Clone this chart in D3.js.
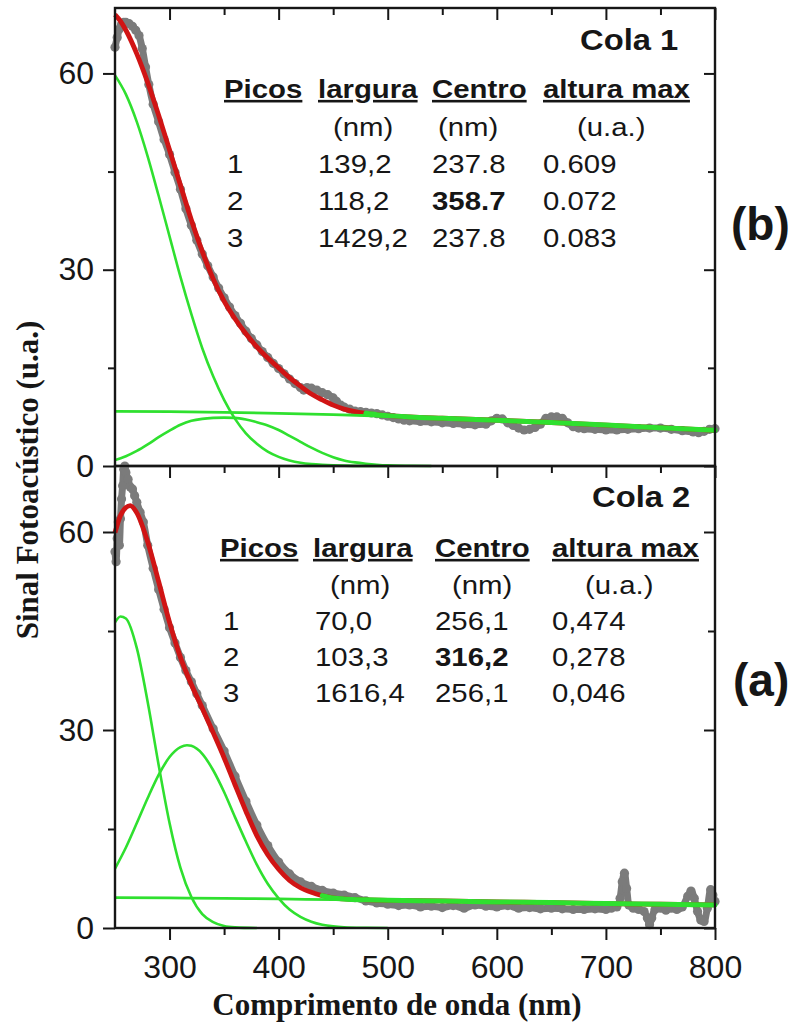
<!DOCTYPE html>
<html>
<head>
<meta charset="utf-8">
<script src="https://cdn.jsdelivr.net/npm/d3@7"></script>
<style>
  body { margin: 0; background: #fff; }
  svg { display: block; }
</style>
</head>
<body>
<div id="chart"></div>
<script>
const width = 795, height = 1023;

// ---- data ----

// table (shared headings)
const headers = ['Picos', 'largura', 'Centro', 'altura max'];
const units = ['', '(nm)', '(nm)', '(u.a.)'];
const tableB = [
  ['1', '139,2', '237.8', '0.609'],
  ['2', '118,2', '358.7', '0.072'],
  ['3', '1429,2', '237.8', '0.083']
];
const tableA = [
  ['1', '70,0', '256,1', '0,474'],
  ['2', '103,3', '316,2', '0,278'],
  ['3', '1616,4', '256,1', '0,046']
];

const nmMajor = [300, 400, 500, 600, 700, 800];
const nmMinor = [350, 450, 550, 650, 750];
const sigMajor = [0, 30, 60];
const sigMinor = [15, 45];

// Cola 1 (b): measured signal
const dataB_nm = [250,252,254,256,258,260,263,266,269,272,275,278,281,285,290,295,300,305,310,315,320,325,330,335,340,345,350,355,360,365,370,375,380,385,390,395,400,405,410,415,420,423,426,430,435,440,445,450,453,457,460,465,470,475,480,485,490,495,500,505,510,515,520,530,540,550,560,570,580,590,595,600,605,610,615,620,625,630,635,640,645,650,655,660,665,670,675,680,690,700,710,720,730,740,750,760,770,780,785,790,795,800];
const dataB_val = [64.0,65.5,66.8,67.5,67.8,67.8,67.6,67.2,66.6,65.8,63.8,61.0,58.3,55.3,52.6,49.9,47.6,44.9,42.3,39.3,36.8,34.5,32.4,30.6,28.9,27.2,25.7,24.3,23.0,21.8,20.6,19.5,18.5,17.5,16.6,15.7,14.9,14.1,13.3,12.6,12.0,11.6,12.0,11.9,11.6,11.2,10.9,10.4,9.9,9.3,9.0,8.7,8.4,8.3,8.2,8.1,8.0,7.8,7.6,7.4,7.2,7.0,6.9,6.8,6.75,6.6,6.5,6.4,6.3,6.4,6.9,7.3,7.2,6.6,6.2,5.8,5.5,5.6,5.9,6.4,7.3,7.5,7.5,7.3,6.6,6.0,5.8,5.7,5.6,5.5,5.5,5.6,5.7,5.8,5.8,5.6,5.4,5.2,5.1,5.3,5.6,5.7];

// Cola 1 (b): fitted sum and components
const fitB_nm = [250,255,260,270,280,290,300,310,320,330,340,350,360,370,380,390,400,410,420,430,440,450,460,470,480,490,500,520,550,600,650,700,750,800];
const fitB_val = [69.0,68.0,66.6,63.0,58.6,53.6,48.3,42.9,37.6,32.8,28.6,25.2,22.5,20.2,18.2,16.5,15.0,13.5,12.2,11.0,10.1,9.3,8.7,8.3,8.05,7.85,7.7,7.5,7.3,7.0,6.65,6.25,5.85,5.45];
const peak1B_nm = [250,260,270,280,290,300,310,320,330,340,350,360,370,380,390,400,410,420,430,440,450,460,480,500];
const peak1B_val = [59.7,56.8,52.6,47.3,41.3,35.1,28.9,23.2,18.0,13.7,10.1,7.2,5.0,3.4,2.2,1.4,0.85,0.5,0.3,0.18,0.1,0.05,0.01,0];
const peak2B_nm = [250,260,270,280,290,300,310,320,330,340,350,360,370,380,390,400,410,420,430,440,450,460,470,480,490,500,520,540];
const peak2B_val = [0.9,1.5,2.3,3.3,4.4,5.4,6.3,6.9,7.2,7.35,7.4,7.35,7.1,6.7,6.2,5.5,4.6,3.7,2.8,2.0,1.35,0.85,0.55,0.35,0.2,0.1,0.03,0];
const peak3B_nm = [250,300,350,400,450,500,550,600,650,700,750,800];
const peak3B_val = [8.35,8.3,8.2,8.05,7.85,7.6,7.3,7.0,6.65,6.25,5.85,5.45];

// Cola 2 (a): measured signal
const dataA_nm = [250,251,252,253,254,255,256,257,258,259,260,262,264,266,268,270,273,276,280,285,290,295,300,305,310,315,320,325,330,340,350,360,370,380,390,400,410,420,430,440,450,460,470,480,490,500,510,520,530,540,550,560,570,580,590,600,610,620,630,640,650,660,670,680,690,700,705,710,713,715,717,719,721,725,730,735,738,740,742,745,750,755,760,765,770,775,778,781,784,787,790,793,796,798,800];
const dataA_val = [57.0,55.5,59.0,61.5,58.0,62.0,65.0,67.0,69.5,70.0,69.0,68.0,66.8,66.5,65.5,64.5,63.0,61.5,58.0,54.5,51.3,48.3,45.5,43.2,41.0,39.0,37.3,35.5,33.7,30.2,26.8,23.0,19.2,15.6,12.5,10.0,8.2,7.0,6.3,5.7,5.3,5.0,4.6,4.1,3.8,3.6,3.4,3.5,3.2,3.3,3.1,3.4,3.0,3.5,3.3,3.2,3.4,3.0,3.1,2.9,3.0,2.9,2.8,2.8,2.9,2.8,3.0,3.2,4.5,7.0,8.3,6.0,3.5,3.0,2.8,2.5,1.5,0.5,1.5,2.8,3.0,2.7,3.0,2.8,3.2,4.8,5.6,4.5,2.5,1.2,1.0,3.0,5.8,5.0,4.0];

// Cola 2 (a): fitted sum and components
const fitA_nm = [250,255,260,264,270,280,290,300,310,320,330,340,350,360,370,380,390,400,410,420,430,440,450,460,480,500,550,600,650,700,750,800];
const fitA_val = [59.9,62.5,63.7,64.0,62.9,58.5,52.5,46.3,41.0,36.9,33.3,29.6,25.8,21.7,17.7,14.0,11.1,8.9,7.2,6.1,5.4,4.9,4.55,4.4,4.27,4.2,4.1,3.95,3.85,3.7,3.6,3.5];
const peak1A_nm = [250,255,260,270,280,290,300,310,320,330,340,350,360,380];
const peak1A_val = [46.3,47.2,46.9,42.4,34.2,24.7,15.9,9.1,4.7,2.1,0.9,0.3,0.1,0];
const peak2A_nm = [250,260,270,280,290,300,310,316,320,330,340,350,360,370,380,390,400,410,420,430,440,450,460,480,500];
const peak2A_val = [9.0,12.2,15.9,19.7,23.2,25.9,27.4,27.7,27.6,26.4,23.9,20.6,16.8,13.1,9.6,6.7,4.5,2.8,1.7,0.96,0.5,0.25,0.12,0.03,0];
const peak3A_nm = [250,300,350,400,450,500,550,600,650,700,750,800];
const peak3A_val = [4.6,4.55,4.5,4.4,4.3,4.2,4.1,3.95,3.85,3.7,3.6,3.5];

// ---- layout ----
const plotLeft = 115, plotRight = 715;
const grey = '#7b7b7b', red = '#d01414', green = '#2fe02f', ink = '#161616';
const sansFont = '"Liberation Sans", Arial, sans-serif';
const serifFont = '"Liberation Serif", "Times New Roman", serif';
const stretch = 1.13;

const x = d3.scaleLinear().domain([250, 800]).range([plotLeft, plotRight]);

const panels = [
  {
    top: 8, bottom: 466, yMax: 70, tailFrom: 480,
    data: [dataB_nm, dataB_val], fit: [fitB_nm, fitB_val],
    peaks: [[peak1B_nm, peak1B_val], [peak2B_nm, peak2B_val], [peak3B_nm, peak3B_val]],
    rows: tableB, cola: 'Cola 1', colaPos: [580, 50], tag: '(b)', tagPos: [731, 240],
    headX: [224, 318, 432, 543], headY: 98,
    unitX: [0, 333, 438, 577], unitY: 136,
    cellX: [227, 318, 432, 543], rowY: [173, 210, 247]
  },
  {
    top: 466, bottom: 928, yMax: 70, tailFrom: 440,
    data: [dataA_nm, dataA_val], fit: [fitA_nm, fitA_val],
    peaks: [[peak1A_nm, peak1A_val], [peak2A_nm, peak2A_val], [peak3A_nm, peak3A_val]],
    rows: tableA, cola: 'Cola 2', colaPos: [592, 507], tag: '(a)', tagPos: [733, 696],
    headX: [220, 313, 435, 552], headY: 557,
    unitX: [0, 330, 452, 585], unitY: 594,
    cellX: [223, 315, 435, 552], rowY: [630, 666, 702]
  }
];

const svg = d3.select('#chart').append('svg')
  .attr('width', width)
  .attr('height', height)
  .style('background', '#fff');

function stretchedText(sel, size, bold) {
  return sel
    .attr('font-family', sansFont)
    .attr('font-size', size)
    .attr('font-weight', bold ? 'bold' : 'normal')
    .attr('fill', ink);
}

function drawPanel(p) {
  const y = d3.scaleLinear().domain([0, p.yMax]).range([p.bottom, p.top]);
  const g = svg.append('g');
  const line = d3.line()
    .x(d => x(d[0]))
    .y(d => y(d[1]))
    .curve(d3.curveMonotoneX);

  // measured points: a thick grey trace with dots on top
  const pts = d3.zip(p.data[0], p.data[1]);
  g.append('path')
    .attr('d', line(pts))
    .attr('fill', 'none')
    .attr('stroke', grey)
    .attr('stroke-width', 7)
    .attr('stroke-linejoin', 'round');
  g.append('g').selectAll('circle')
    .data(pts)
    .join('circle')
      .attr('cx', d => x(d[0]))
      .attr('cy', d => y(d[1]))
      .attr('r', 4.6)
      .attr('fill', grey);

  // fitted sum
  const fitPts = d3.zip(p.fit[0], p.fit[1]);
  g.append('path')
    .attr('d', line(fitPts))
    .attr('fill', 'none')
    .attr('stroke', red)
    .attr('stroke-width', 4.8);

  // gaussian components
  p.peaks.forEach((pk, i) => {
    g.append('path')
      .attr('d', line(d3.zip(pk[0], pk[1])))
      .attr('fill', 'none')
      .attr('stroke', green)
      .attr('stroke-width', i === 2 ? 2.8 : 2.6);
  });

  // the fit tail shows as a thick green band where it meets the baseline
  g.append('path')
    .attr('d', line(fitPts.filter(d => d[0] >= p.tailFrom)))
    .attr('fill', 'none')
    .attr('stroke', green)
    .attr('stroke-width', 5)
    .attr('stroke-linecap', 'round');

  // frame
  g.append('rect')
    .attr('x', plotLeft)
    .attr('y', p.top)
    .attr('width', plotRight - plotLeft)
    .attr('height', p.bottom - p.top)
    .attr('fill', 'none')
    .attr('stroke', ink)
    .attr('stroke-width', 2.4);

  // y axis, left (ticks outward, labelled)
  const left = g.append('g')
    .attr('transform', `translate(${plotLeft},0)`)
    .call(d3.axisLeft(y).tickValues(sigMajor).tickSize(12).tickPadding(9));
  left.append('g')
    .call(d3.axisLeft(y).tickValues(sigMinor).tickSize(7).tickFormat(''));

  // y axis, right (ticks inward)
  const right = g.append('g')
    .attr('transform', `translate(${plotRight},0)`)
    .call(d3.axisLeft(y).tickValues(sigMajor).tickSize(11).tickFormat(''));
  right.append('g')
    .call(d3.axisLeft(y).tickValues(sigMinor).tickSize(7).tickFormat(''));

  // x ticks along the top edge of the panel (pointing down)
  const topAxis = g.append('g')
    .attr('transform', `translate(0,${p.top})`)
    .call(d3.axisBottom(x).tickValues(nmMajor).tickSize(12).tickFormat(''));
  topAxis.append('g')
    .call(d3.axisBottom(x).tickValues(nmMinor).tickSize(7).tickFormat(''));

  g.selectAll('.domain').remove();
  g.selectAll('.tick line').attr('stroke', ink).attr('stroke-width', 2);
  left.selectAll('.tick text')
    .attr('font-family', sansFont)
    .attr('font-size', 32)
    .attr('fill', ink);

  // inset table
  const t = g.append('g');
  stretchedText(t.append('text'), 29, true)
    .attr('transform', `translate(${p.colaPos[0]},${p.colaPos[1]}) scale(${stretch},1)`)
    .text(p.cola);

  stretchedText(t.selectAll('text.head').data(headers).join('text').attr('class', 'head'), 26, true)
    .attr('transform', (d, i) => `translate(${p.headX[i]},${p.headY}) scale(${stretch},1)`)
    .style('text-decoration', 'underline')
    .text(d => d);

  stretchedText(t.selectAll('text.unit').data(units.filter(u => u)).join('text').attr('class', 'unit'), 26, false)
    .attr('transform', (d, i) => `translate(${p.unitX[i + 1]},${p.unitY}) scale(${stretch},1)`)
    .text(d => d);

  p.rows.forEach((row, ri) => {
    stretchedText(t.selectAll(`text.r${ri}`).data(row).join('text').attr('class', `r${ri}`), 26, false)
      .attr('font-weight', (d, ci) => (ri === 1 && ci === 2) ? 'bold' : 'normal')
      .attr('transform', (d, ci) => `translate(${p.cellX[ci]},${p.rowY[ri]}) scale(${stretch},1)`)
      .text(d => d);
  });

  t.append('text')
    .attr('x', p.tagPos[0])
    .attr('y', p.tagPos[1])
    .attr('font-family', sansFont)
    .attr('font-size', 46)
    .attr('font-weight', 'bold')
    .attr('fill', ink)
    .text(p.tag);

  return y;
}

panels.forEach(drawPanel);

// bottom wavelength axis with labels
const xAxis = svg.append('g')
  .attr('transform', `translate(0,${panels[1].bottom})`)
  .call(d3.axisBottom(x).tickValues(nmMajor).tickSize(12).tickPadding(15));
xAxis.append('g')
  .call(d3.axisBottom(x).tickValues(nmMinor).tickSize(7).tickFormat(''));
xAxis.selectAll('.domain').remove();
xAxis.selectAll('.tick line').attr('stroke', ink).attr('stroke-width', 2);
xAxis.selectAll('.tick text')
  .attr('font-family', sansFont)
  .attr('font-size', 32)
  .attr('fill', ink);

// axis titles
svg.append('text')
  .attr('x', 397)
  .attr('y', 1015)
  .attr('text-anchor', 'middle')
  .attr('font-family', serifFont)
  .attr('font-size', 31)
  .attr('font-weight', 'bold')
  .attr('fill', ink)
  .text('Comprimento de onda (nm)');

svg.append('text')
  .attr('transform', 'translate(38,480) rotate(-90)')
  .attr('text-anchor', 'middle')
  .attr('font-family', serifFont)
  .attr('font-size', 31)
  .attr('font-weight', 'bold')
  .attr('fill', ink)
  .text('Sinal Fotoacústico (u.a.)');
</script>
</body>
</html>
